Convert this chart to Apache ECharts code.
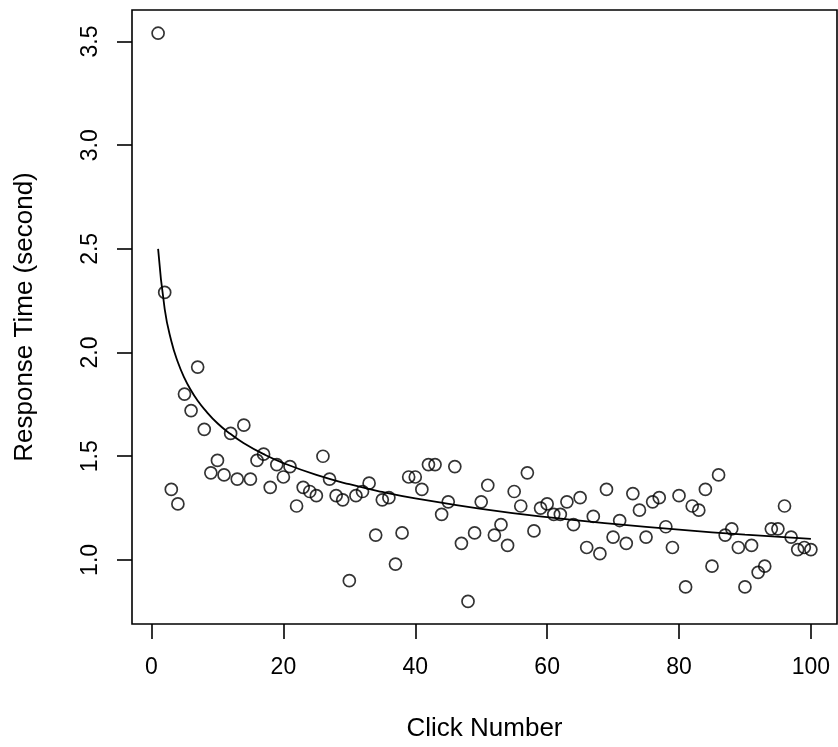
<!DOCTYPE html>
<html>
<head>
<meta charset="utf-8">
<script src="https://cdn.jsdelivr.net/npm/echarts@6/dist/echarts.min.js"></script>
<style>
  html, body { margin: 0; padding: 0; background: #fff; }
  #chart { width: 838px; height: 747px; }
</style>
</head>
<body>
<div id="chart"></div>
<script>
// response time (s) for click 1..100
const responseTimes = [
  3.54, 2.29, 1.34, 1.27, 1.80, 1.72, 1.93, 1.63, 1.42, 1.48,
  1.41, 1.61, 1.39, 1.65, 1.39, 1.48, 1.51, 1.35, 1.46, 1.40,
  1.45, 1.26, 1.35, 1.33, 1.31, 1.50, 1.39, 1.31, 1.29, 0.90,
  1.31, 1.33, 1.37, 1.12, 1.29, 1.30, 0.98, 1.13, 1.40, 1.40,
  1.34, 1.46, 1.46, 1.22, 1.28, 1.45, 1.08, 0.80, 1.13, 1.28,
  1.36, 1.12, 1.17, 1.07, 1.33, 1.26, 1.42, 1.14, 1.25, 1.27,
  1.22, 1.22, 1.28, 1.17, 1.30, 1.06, 1.21, 1.03, 1.34, 1.11,
  1.19, 1.08, 1.32, 1.24, 1.11, 1.28, 1.30, 1.16, 1.06, 1.31,
  0.87, 1.26, 1.24, 1.34, 0.97, 1.41, 1.12, 1.15, 1.06, 0.87,
  1.07, 0.94, 0.97, 1.15, 1.15, 1.26, 1.11, 1.05, 1.06, 1.05
]

// fitted curve
const fitClicks = [1, 2, 3, 4, 5, 6, 7, 8, 10, 12, 14, 17, 20, 25, 30, 35, 40, 50, 60, 70, 80, 90, 100]
const fitValues = [2.500, 2.210, 2.056, 1.953, 1.877, 1.817, 1.768, 1.727, 1.659, 1.607, 1.563, 1.510,
  1.467, 1.410, 1.365, 1.328, 1.297, 1.246, 1.206, 1.174, 1.146, 1.122, 1.102]

const xTicks = [0, 20, 40, 60, 80, 100]
const yTicks = [1.0, 1.5, 2.0, 2.5, 3.0, 3.5]

const font = 'Liberation Sans, Arial, Helvetica, sans-serif'

const chart = echarts.init(document.getElementById('chart'))

chart.setOption({
  animation: false,
  grid: {
    left: 132, right: 1, top: 10, bottom: 120,
    show: true,
    borderColor: '#000',
    borderWidth: 1.6,
    backgroundColor: 'transparent',
  },
  xAxis: {
    type: 'value',
    min: -2.96,
    max: 103.96,
    name: 'Click Number',
    nameLocation: 'middle',
    nameGap: 92,
    nameTextStyle: { fontFamily: font, fontSize: 26, color: '#000' },
    axisLine: { show: false, onZero: false },
    splitLine: { show: false },
    axisTick: {
      show: true,
      customValues: xTicks,
      length: 15,
      lineStyle: { color: '#000', width: 1.6 },
    },
    axisLabel: {
      customValues: xTicks,
      fontFamily: font,
      fontSize: 23,
      color: '#000',
      margin: 32,
    },
  },
  yAxis: {
    type: 'value',
    min: 0.691,
    max: 3.652,
    name: 'Response Time (second)',
    nameLocation: 'middle',
    nameGap: 94,
    nameTextStyle: { fontFamily: font, fontSize: 26, color: '#000' },
    axisLine: { show: false, onZero: false },
    splitLine: { show: false },
    axisTick: {
      show: true,
      customValues: yTicks,
      length: 15,
      lineStyle: { color: '#000', width: 1.6 },
    },
    axisLabel: {
      customValues: yTicks,
      formatter: (v) => v.toFixed(1),
      rotate: 90,
      fontFamily: font,
      fontSize: 23,
      color: '#000',
      margin: 30,
    },
  },
  series: [
    {
      type: 'scatter',
      symbol: 'circle',
      symbolSize: 12,
      itemStyle: { color: 'rgba(0,0,0,0)', borderColor: '#000', borderWidth: 1.7 },
      data: responseTimes.map((v, i) => [i + 1, v]),
      z: 3,
    },
    {
      type: 'line',
      showSymbol: false,
      smooth: true,
      lineStyle: { color: '#000', width: 1.8 },
      data: fitClicks.map((c, i) => [c, fitValues[i]]),
      z: 2,
    },
  ],
})
</script>
</body>
</html>
